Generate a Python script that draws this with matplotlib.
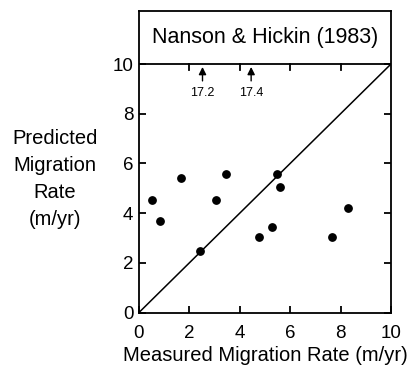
import matplotlib
matplotlib.use("Agg")
import matplotlib.pyplot as plt

plt.rcParams['font.family'] = ['Liberation Sans', 'DejaVu Sans']

measured = [0.50, 0.85, 1.68, 2.42, 3.06, 3.45, 4.77, 5.29, 5.48, 5.58, 7.67, 8.31]
predicted = [4.54, 3.68, 5.42, 2.46, 4.54, 5.59, 3.05, 3.45, 5.59, 5.07, 3.05, 4.19]
ticks = [0, 2, 4, 6, 8, 10]
offscale_x = [2.52, 4.45]
offscale_labels = ["17.2", "17.4"]
title = "Nanson & Hickin (1983)"

W, H = 412, 368
fig = plt.figure(figsize=(W / 100, H / 100), dpi=100)
x0, x1 = 139, 391
y0, ytop = 312.5, 11
y10 = 64
ax = fig.add_axes([x0 / W, 1 - y0 / H, (x1 - x0) / W, (y0 - ytop) / H])
ymax = 10 * (y0 - ytop) / (y0 - y10)
ax.set_xlim(0, 10)
ax.set_ylim(0, ymax)

ax.plot([0, 10], [0, 10], color='black', lw=1.1)
ax.scatter(measured, predicted, s=28, color='black', zorder=3)
ax.axhline(10, color='black', lw=1.3)

# top ticks on the y=10 line
for t in ticks[1:-1]:
    ax.plot([t, t], [10, 10 - 0.24], color='black', lw=1.3)

for xv, lab in zip(offscale_x, offscale_labels):
    ax.annotate('', xy=(xv, 9.88), xytext=(xv, 9.32),
                arrowprops=dict(arrowstyle='-|>', color='black', lw=1.0,
                                mutation_scale=11, shrinkA=0, shrinkB=0))
    ax.text(xv, 8.85, lab, ha='center', va='center', fontsize=9)

ax.text(5, (ymax + 10) / 2, title, ha='center', va='center', fontsize=15.5)

ax.set_xticks(ticks)
ax.set_yticks(ticks)
ax.tick_params(direction='in', length=5, width=1.3, labelsize=13.5,
               right=True, top=False)
ax.tick_params(axis='x', pad=9)
ax.tick_params(axis='y', pad=4)
for s in ax.spines.values():
    s.set_linewidth(1.3)

ax.set_xlabel("Measured Migration Rate (m/yr)", fontsize=14.5, labelpad=3)
fig.text(55 / W, 1 - 179 / H, "Predicted\nMigration\nRate\n(m/yr)",
         ha='center', va='center', fontsize=14.5, linespacing=1.55)

fig.savefig("out.png", dpi=100)
